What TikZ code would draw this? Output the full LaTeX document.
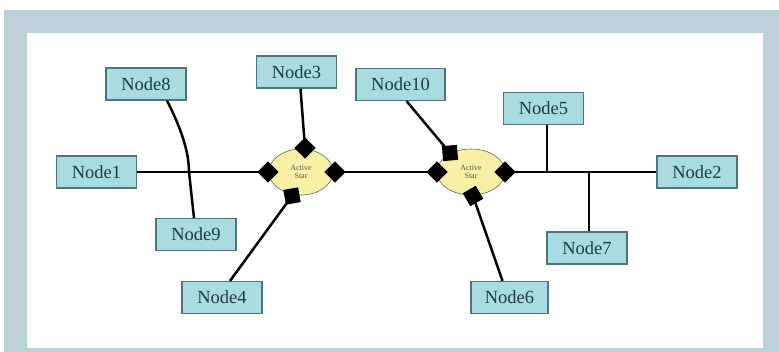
\documentclass[tikz,border=0pt]{standalone}
\usepackage{fontspec}
\setmainfont{Liberation Serif}
\usetikzlibrary{shapes.geometric}
\definecolor{bgblue}{HTML}{BCD0D8}
\definecolor{nodefill}{HTML}{A9DCE0}
\definecolor{nodeborder}{HTML}{4F7478}
\definecolor{nodetext}{HTML}{1E3C3E}
\definecolor{staryellow}{HTML}{F8F0A4}
\begin{document}
\begin{tikzpicture}[x=1pt,y=-1pt,
  box/.style={draw=nodeborder, line width=1.2pt, fill=nodefill, minimum width=80pt,
    minimum height=32pt, inner sep=0pt, font=\fontsize{18.5}{20}\selectfont, text=nodetext},
  wire/.style={line width=2.5pt, black},
  port/.style={fill=black, rectangle, minimum size=15pt, inner sep=0pt},
  star/.style={ellipse, draw=black!60, line width=0.6pt, fill=staryellow,
    minimum width=64pt, minimum height=46pt, align=center, inner sep=0pt,
    font=\fontsize{8}{8.5}\selectfont, text=black!65}]
\useasboundingbox (0,0) rectangle (779,352);
\fill[white] (0,0) rectangle (779,352);
\fill[bgblue] (4,10) rectangle (779,352);
\fill[white] (27,33) rectangle (763,348);
% nodes
\node[box] (n8) at (146,84) {Node8};
\node[box] (n1) at (96.5,172) {Node1};
\node[box] (n9) at (196,234.5) {Node9};
\node[box] (n3) at (296.5,72) {Node3};
\node[box, minimum width=89pt] (n10) at (400.5,84.5) {Node10};
\node[box] (n5) at (543.5,108.5) {Node5};
\node[box] (n2) at (697,172) {Node2};
\node[box] (n7) at (587,248) {Node7};
\node[box] (n4) at (222,297.5) {Node4};
\node[box, minimum width=77pt] (n6) at (509.5,297.5) {Node6};
% active stars
\node[star] (s1) at (301,172) {Active\\Star};
\node[star, minimum width=68pt] (s2) at (471,172) {Active\\Star};
% port coordinates
\coordinate (p1l) at (268,172);
\coordinate (p1r) at (335,172);
\coordinate (p1t) at (305,148);
\coordinate (p1b) at (292,196);
\coordinate (p2l) at (437,172);
\coordinate (p2r) at (505,172);
\coordinate (p2t) at (450,153);
\coordinate (p2b) at (473,196);
\coordinate (x89) at (189,172);
% connectors
\draw[wire] (n1.east) -- (p1l);
\draw[wire] (p1r) -- (p2l);
\draw[wire] (p2r) -- (n2.west);
\draw[wire] ([xshift=4pt]n3.south) -- (p1t);
\draw[wire] (p1b) -- ([xshift=8pt]n4.north);
\draw[wire] ([xshift=6pt]n10.south) -- (p2t);
\draw[wire] (p2b) -- ([xshift=-7pt]n6.north);
\draw[wire] ([xshift=3.5pt]n5.south) -- ([xshift=3.5pt]n5.south |- p2r);
\draw[wire] ([xshift=2pt]n7.north) -- ([xshift=2pt]n7.north |- p2r);
\draw[wire] ([xshift=21pt]n8.south) .. controls (181,128) and (189,152) .. (x89)
  -- ([xshift=-2pt]n9.north);
% ports
\node[port, rotate=45] (q1l) at (p1l) {};
\node[port, rotate=45] (q1r) at (p1r) {};
\node[port, rotate=45] (q1t) at (p1t) {};
\node[port, rotate=10] (q1b) at (p1b) {};
\node[port, rotate=45] (q2l) at (p2l) {};
\node[port, rotate=45] (q2r) at (p2r) {};
\node[port, rotate=5] (q2t) at (p2t) {};
\node[port, rotate=30] (q2b) at (p2b) {};
\end{tikzpicture}
\end{document}
